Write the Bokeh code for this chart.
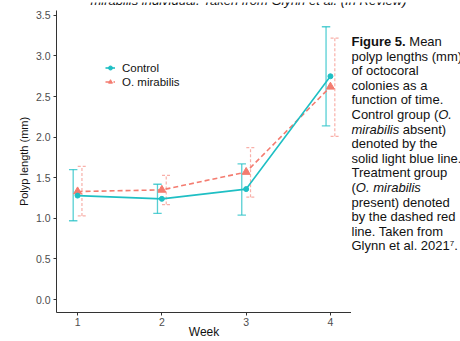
from bokeh.plotting import figure
from bokeh.layouts import row, column
from bokeh.models import (Range1d, FixedTicker, PrintfTickFormatter, Label,
                          Legend, LegendItem, ColumnDataSource)
from bokeh.embed import file_html
from bokeh.resources import INLINE

# ---------------- data ----------------
weeks = [1, 2, 3, 4]
control_mean = [1.28, 1.24, 1.36, 2.75]
control_lo = [0.97, 1.06, 1.04, 2.14]
control_hi = [1.60, 1.42, 1.67, 3.36]
mirabilis_mean = [1.33, 1.35, 1.57, 2.62]
mirabilis_lo = [1.03, 1.17, 1.26, 2.01]
mirabilis_hi = [1.64, 1.53, 1.87, 3.22]
y_ticks = [0.0, 0.5, 1.0, 1.5, 2.0, 2.5, 3.0, 3.5]
x_ticks = [1, 2, 3, 4]
series_names = ["Control", "O. mirabilis"]
top_text = "mirabilis individual. Taken from Glynn et al. (In Review)"
x_title = "Week"
y_title = "Polyp length (mm)"

TEAL = "#1FBFC4"
RED = "#F47C70"
FONT = "Liberation Sans"

TOTAL_W, TOTAL_H = 460, 341
TOP_H = 10                        # strip with cut-off line of text
H = TOTAL_H - TOP_H
FL, FW = 56, 295                  # frame left / width in px
W1 = FL + FW                      # chart figure width
W2 = TOTAL_W - W1                 # caption figure width
X0, X1 = 0.75, 4.25
Y0, Y1 = -0.16, 3.56


def strip(width, height, flip=True):
    f = figure(width=width, height=height, output_backend="svg",
               toolbar_location=None, x_range=Range1d(0, width),
               y_range=Range1d(height, 0) if flip else Range1d(0, height),
               x_axis_type=None, y_axis_type=None, min_border=0)
    f.outline_line_color = None
    f.xgrid.visible = False
    f.ygrid.visible = False
    f.border_fill_color = "white"
    return f

# ---------------- strip on top (cut-off line of text) ----------------
top_fig = strip(TOTAL_W, TOP_H, flip=False)
top_fig.add_layout(Label(x=248, y=TOP_H + 2.5, text=top_text, text_font=FONT,
                         text_font_size="13px", text_font_style="italic",
                         text_align="center", text_baseline="alphabetic",
                         text_color="#111111"))

# ---------------- chart ----------------
p = figure(width=W1, height=H, output_backend="svg", toolbar_location=None,
           x_range=Range1d(X0, X1), y_range=Range1d(Y0, Y1),
           min_border_left=FL, min_border_top=0,
           min_border_right=0, min_border_bottom=26)
p.outline_line_color = None
p.xgrid.visible = False
p.ygrid.visible = False
p.background_fill_color = "white"
p.border_fill_color = "white"

for ax in (p.xaxis[0], p.yaxis[0]):
    ax.axis_line_color = "#333333"
    ax.axis_line_width = 1
    ax.major_tick_line_color = "#333333"
    ax.major_tick_out = 3
    ax.major_tick_in = 0
    ax.minor_tick_line_color = None
    ax.major_label_text_font = FONT
    ax.major_label_text_font_size = "10.5px"
    ax.major_label_text_color = "#4D4D4D"
    ax.axis_label_text_font = FONT
    ax.axis_label_text_font_style = "normal"
    ax.axis_label_text_color = "#111111"

p.yaxis.ticker = FixedTicker(ticks=y_ticks)
p.yaxis.formatter = PrintfTickFormatter(format="%.1f")
p.yaxis.major_label_standoff = 3
p.yaxis.axis_label = y_title
p.yaxis.axis_label_text_font_size = "11px"
p.yaxis.axis_label_standoff = 3

p.xaxis.ticker = FixedTicker(ticks=x_ticks)
p.xaxis.major_label_standoff = 2
p.xaxis.axis_label = x_title
p.xaxis.axis_label_text_font_size = "12px"
p.xaxis.axis_label_standoff = -4

# error bars
dodge = 0.052
cap = 0.05
cx = [w - dodge for w in weeks]
mx = [w + dodge for w in weeks]

p.segment(x0=cx, y0=control_lo, x1=cx, y1=control_hi, line_color=TEAL,
          line_width=1.3, line_alpha=0.75)
p.segment(x0=[x - cap for x in cx], y0=control_lo, x1=[x + cap for x in cx],
          y1=control_lo, line_color=TEAL, line_width=1.3, line_alpha=0.75)
p.segment(x0=[x - cap for x in cx], y0=control_hi, x1=[x + cap for x in cx],
          y1=control_hi, line_color=TEAL, line_width=1.3, line_alpha=0.75)

p.segment(x0=mx, y0=mirabilis_lo, x1=mx, y1=mirabilis_hi, line_color=RED,
          line_width=1.2, line_alpha=0.6, line_dash="3 2")
p.segment(x0=[x - cap for x in mx], y0=mirabilis_lo, x1=[x + cap for x in mx],
          y1=mirabilis_lo, line_color=RED, line_width=1.2, line_alpha=0.6,
          line_dash="3 2")
p.segment(x0=[x - cap for x in mx], y0=mirabilis_hi, x1=[x + cap for x in mx],
          y1=mirabilis_hi, line_color=RED, line_width=1.2, line_alpha=0.6,
          line_dash="3 2")

# lines + markers
src_c = ColumnDataSource(dict(x=weeks, y=control_mean))
src_m = ColumnDataSource(dict(x=weeks, y=mirabilis_mean))

ml = p.line("x", "y", source=src_m, line_color=RED, line_width=1.6,
            line_dash="5 3")
mm = p.scatter("x", "y", source=src_m, marker="triangle", size=8,
               fill_color=RED, line_color=RED)
cl = p.line("x", "y", source=src_c, line_color=TEAL, line_width=1.6)
cm = p.scatter("x", "y", source=src_c, marker="circle", size=5,
               fill_color=TEAL, line_color=TEAL)

legend = Legend(items=[LegendItem(label=series_names[0], renderers=[cl, cm]),
                       LegendItem(label=series_names[1], renderers=[ml, mm])],
                location=(49, 224), orientation="vertical")
legend.background_fill_alpha = 0
legend.border_line_color = None
legend.padding = 0
legend.margin = 0
legend.spacing = 1
legend.glyph_width = 10
legend.glyph_height = 13
legend.label_height = 13
legend.label_standoff = 7
legend.label_text_font = FONT
legend.label_text_font_size = "11.5px"
legend.label_text_color = "#111111"
p.add_layout(legend)

# ---------------- caption (right) ----------------
cap_fig = strip(W2, H)

REG = {" ": 278, "(": 333, ")": 333, ".": 278, "0": 556, "1": 556, "2": 556,
       "5": 556, "7": 556, "a": 556, "b": 556, "c": 500, "d": 556, "e": 556,
       "f": 278, "g": 556, "h": 556, "i": 222, "k": 500, "l": 222, "m": 833,
       "n": 556, "o": 556, "p": 556, "r": 333, "s": 500, "t": 278, "u": 556,
       "y": 500, "C": 722, "F": 611, "G": 778, "O": 778, "T": 611}
BOLD = {"F": 611, "i": 278, "g": 611, "u": 611, "r": 389, "e": 556, " ": 278,
        "5": 556, ".": 278}

def width(s, style, size):
    tab = BOLD if style == "bold" else REG
    return sum(tab.get(ch, 556) for ch in s) * size / 1000.0

caption = [
    [("bold", "Figure 5."), ("normal", " Mean")],
    [("normal", "polyp lengths (mm)")],
    [("normal", "of octocoral")],
    [("normal", "colonies as a")],
    [("normal", "function of time.")],
    [("normal", "Control group ("), ("italic", "O.")],
    [("italic", "mirabilis"), ("normal", " absent)")],
    [("normal", "denoted by the")],
    [("normal", "solid light blue line.")],
    [("normal", "Treatment group")],
    [("normal", "("), ("italic", "O. mirabilis")],
    [("normal", "present) denoted")],
    [("normal", "by the dashed red")],
    [("normal", "line. Taken from")],
    [("normal", "Glynn et al. 2021"), ("sup", "7"), ("normal", ".")],
]
CAP_SIZE = 13
for i, segs in enumerate(caption):
    ty = 44 + 16 * i - TOP_H
    off = 0.0
    for style, txt in segs:
        if style == "sup":
            size, st, yoff = 8, "normal", 2
        else:
            size, st, yoff = CAP_SIZE, style, 0
        lead = len(txt) - len(txt.lstrip(" "))
        off += lead * 278 * size / 1000.0
        core = txt.strip(" ")
        cap_fig.add_layout(Label(x=off, y=ty, y_offset=yoff, text=core,
                                 text_font=FONT, text_font_size=f"{size}px",
                                 text_font_style=st, text_align="left",
                                 text_baseline="middle", text_color="#111111"))
        off += width(core, st, size)

layout = column(top_fig, row(p, cap_fig))
open("out.html", "w").write(file_html(layout, INLINE))
